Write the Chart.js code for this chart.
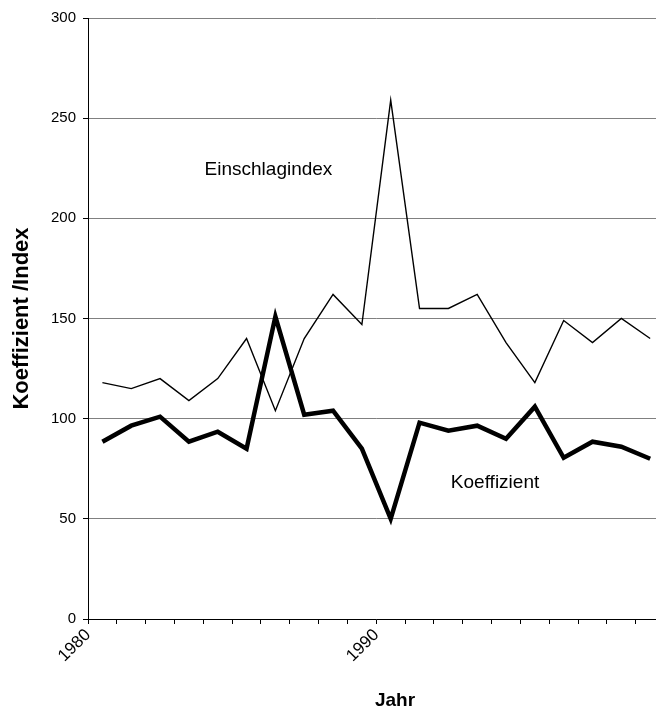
<!DOCTYPE html>
<html>
<head>
<meta charset="utf-8">
<script src="https://cdn.jsdelivr.net/npm/chart.js@4"></script>
<style>
  html, body { margin: 0; padding: 0; background: #fff; overflow: hidden; width: 656px; height: 710px; }
  #wrap { width: 680px; height: 710px; }
</style>
</head>
<body>
<div id="wrap"><canvas id="c" width="680" height="710"></canvas></div>
<script>
// Categories (years)
const years = [1980, 1981, 1982, 1983, 1984, 1985, 1986, 1987, 1988, 1989,
               1990, 1991, 1992, 1993, 1994, 1995, 1996, 1997, 1998, 1999];
// Series values
const einschlagindex = [118, 115, 120, 109, 120, 140, 104, 140, 162, 147,
                        259, 155, 155, 162, 138, 118, 149, 138, 150, 140];
const koeffizient = [88.5, 96.5, 101, 88.5, 93.5, 85, 151, 102, 104, 85,
                     50, 98, 94, 96.5, 90, 106, 80.5, 88.5, 86, 80];
// Tick labels
const xTickLabels = ['1980', '1990'];
const yTicks = [0, 50, 100, 150, 200, 250, 300];

const toPoints = arr => arr.map((v, i) => ({ x: i + 0.5, y: v }));

const FONT = "'Liberation Sans', Arial, sans-serif";

const annotations = {
  id: 'annotations',
  afterDatasetsDraw(chart) {
    const { ctx, scales } = chart;
    ctx.save();
    ctx.fillStyle = '#000';
    ctx.textAlign = 'center';
    ctx.textBaseline = 'middle';
    ctx.font = `19px ${FONT}`;
    ctx.fillText('Einschlagindex', scales.x.getPixelForValue(6.26), scales.y.getPixelForValue(224));
    ctx.fillText('Koeffizient', scales.x.getPixelForValue(14.12), scales.y.getPixelForValue(68));
    // x-axis title
    ctx.font = `bold 19px ${FONT}`;
    ctx.fillText('Jahr', scales.x.getPixelForValue(10.65), chart.height - 9);
    ctx.restore();
  }
};

new Chart(document.getElementById('c'), {
  type: 'line',
  data: {
    datasets: [
      {
        label: 'Einschlagindex',
        data: toPoints(einschlagindex),
        borderColor: '#000',
        borderWidth: 1.4,
        pointRadius: 0,
        tension: 0,
        fill: false
      },
      {
        label: 'Koeffizient',
        data: toPoints(koeffizient),
        borderColor: '#000',
        borderWidth: 4.5,
        pointRadius: 0,
        tension: 0,
        fill: false,
        borderJoinStyle: 'miter'
      }
    ]
  },
  options: {
    responsive: false,
    animation: false,
    layout: { padding: { left: 0, top: 18, right: 2, bottom: 0 } },
    plugins: {
      legend: { display: false },
      tooltip: { enabled: false }
    },
    scales: {
      x: {
        type: 'linear',
        min: 0,
        max: years.length,
        afterFit(scale) { scale.height = 91; },
        ticks: {
          stepSize: 1,
          autoSkip: false,
          maxTicksLimit: 100,
          maxRotation: 45,
          minRotation: 45,
          padding: 1,
          color: '#000',
          font: { family: FONT, size: 17 },
          callback: (value) => {
            const yr = years[value];
            return (yr !== undefined && xTickLabels.includes(String(yr))) ? String(yr) : '';
          }
        },
        grid: {
          drawOnChartArea: false,
          drawTicks: true,
          tickLength: 5,
          tickColor: '#000',
          lineWidth: 1
        },
        border: { display: true, color: '#000', width: 1 },
        title: { display: false }
      },
      y: {
        min: 0,
        max: 300,
        afterFit(scale) { scale.width = 88; },
        afterBuildTicks(scale) { scale.ticks = yTicks.map(v => ({ value: v })); },
        ticks: {
          color: '#000',
          padding: 7,
          font: { family: FONT, size: 15 }
        },
        grid: {
          color: '#808080',
          lineWidth: 1,
          drawTicks: true,
          tickLength: 5,
          tickColor: '#000'
        },
        border: { display: true, color: '#000', width: 1 },
        title: {
          display: true,
          text: 'Koeffizient /Index',
          color: '#000',
          font: { family: FONT, size: 22, weight: 'bold', lineHeight: 1 },
          padding: { top: 11, bottom: 0 }
        }
      }
    }
  },
  plugins: [annotations]
});
</script>
</body>
</html>
